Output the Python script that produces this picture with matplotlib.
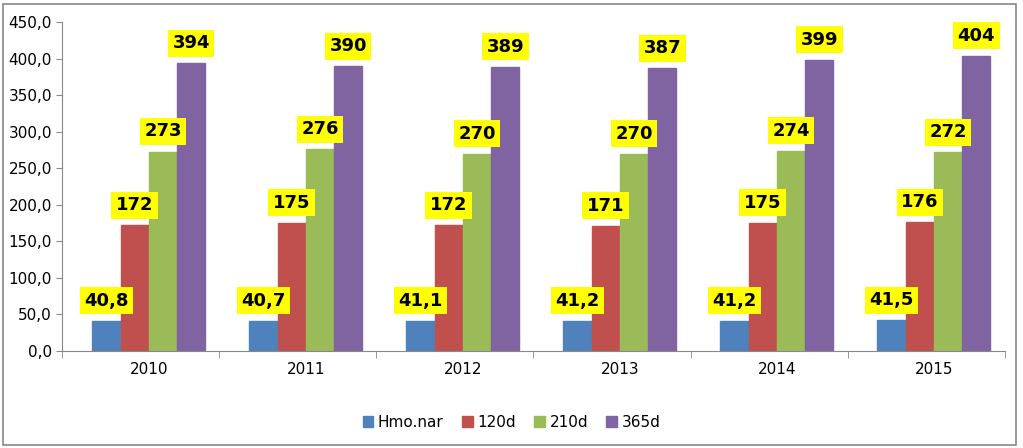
import matplotlib
matplotlib.use("Agg")
import matplotlib.pyplot as plt
import numpy as np
from matplotlib.patches import FancyBboxPatch

years = ["2010", "2011", "2012", "2013", "2014", "2015"]
series_names = ["Hmo.nar", "120d", "210d", "365d"]
hmo = [40.8, 40.7, 41.1, 41.2, 41.2, 41.5]
d120 = [172, 175, 172, 171, 175, 176]
d210 = [273, 276, 270, 270, 274, 272]
d365 = [394, 390, 389, 387, 399, 404]
labels_hmo = ["40,8", "40,7", "41,1", "41,2", "41,2", "41,5"]
colors = ["#4F81BD", "#C0504D", "#9BBB59", "#8064A2"]

fig = plt.figure(figsize=(10.23, 4.48), dpi=100)
fig.patches.append(FancyBboxPatch((0.003, 0.006), 0.99, 0.985, boxstyle="square,pad=0",
                                  transform=fig.transFigure, fill=False, ec="#888888", lw=1.2))
ax = fig.add_axes([0.061, 0.217, 0.921, 0.733])
x = np.arange(len(years))
w = 0.18
all_series = [hmo, d120, d210, d365]
for i, (vals, c, name) in enumerate(zip(all_series, colors, series_names)):
    pos = x + (i - 1.5) * w + 0.05
    ax.bar(pos, vals, w, color=c, label=name, edgecolor=c)
    for j, (p, v) in enumerate(zip(pos, vals)):
        txt = labels_hmo[j] if i == 0 else f"{int(v)}"
        ax.annotate(txt, (p, v), xytext=(0, 8), textcoords="offset points",
                    ha="center", va="bottom", fontsize=13, fontweight="bold",
                    bbox=dict(boxstyle="square,pad=0.25", fc="#FFFF00", ec="none"))
ax.set_ylim(0, 450)
ax.set_yticks(np.arange(0, 451, 50))
ax.set_yticklabels([f"{v:.1f}".replace(".", ",") for v in np.arange(0, 451, 50)], fontsize=11)
ax.set_xlim(-0.5, len(years) - 0.5)
ax.set_xticks(x + 0.05)
ax.set_xticklabels(years, fontsize=11)
ax.set_xticks(np.arange(-0.5, len(years)), minor=True)
ax.tick_params(axis="x", which="major", length=0, pad=8)
ax.tick_params(axis="x", which="minor", length=5, color="#888888")
ax.tick_params(axis="y", length=4, color="#888888")
for s in ["top", "right"]:
    ax.spines[s].set_visible(False)
for s in ["left", "bottom"]:
    ax.spines[s].set_color("#888888")
fig.legend(loc="lower center", bbox_to_anchor=(0.5, 0.01), ncol=4, frameon=False,
           fontsize=11, handlelength=0.7, handleheight=0.7, columnspacing=1.2, handletextpad=0.3)
fig.savefig("out.png", dpi=100)
